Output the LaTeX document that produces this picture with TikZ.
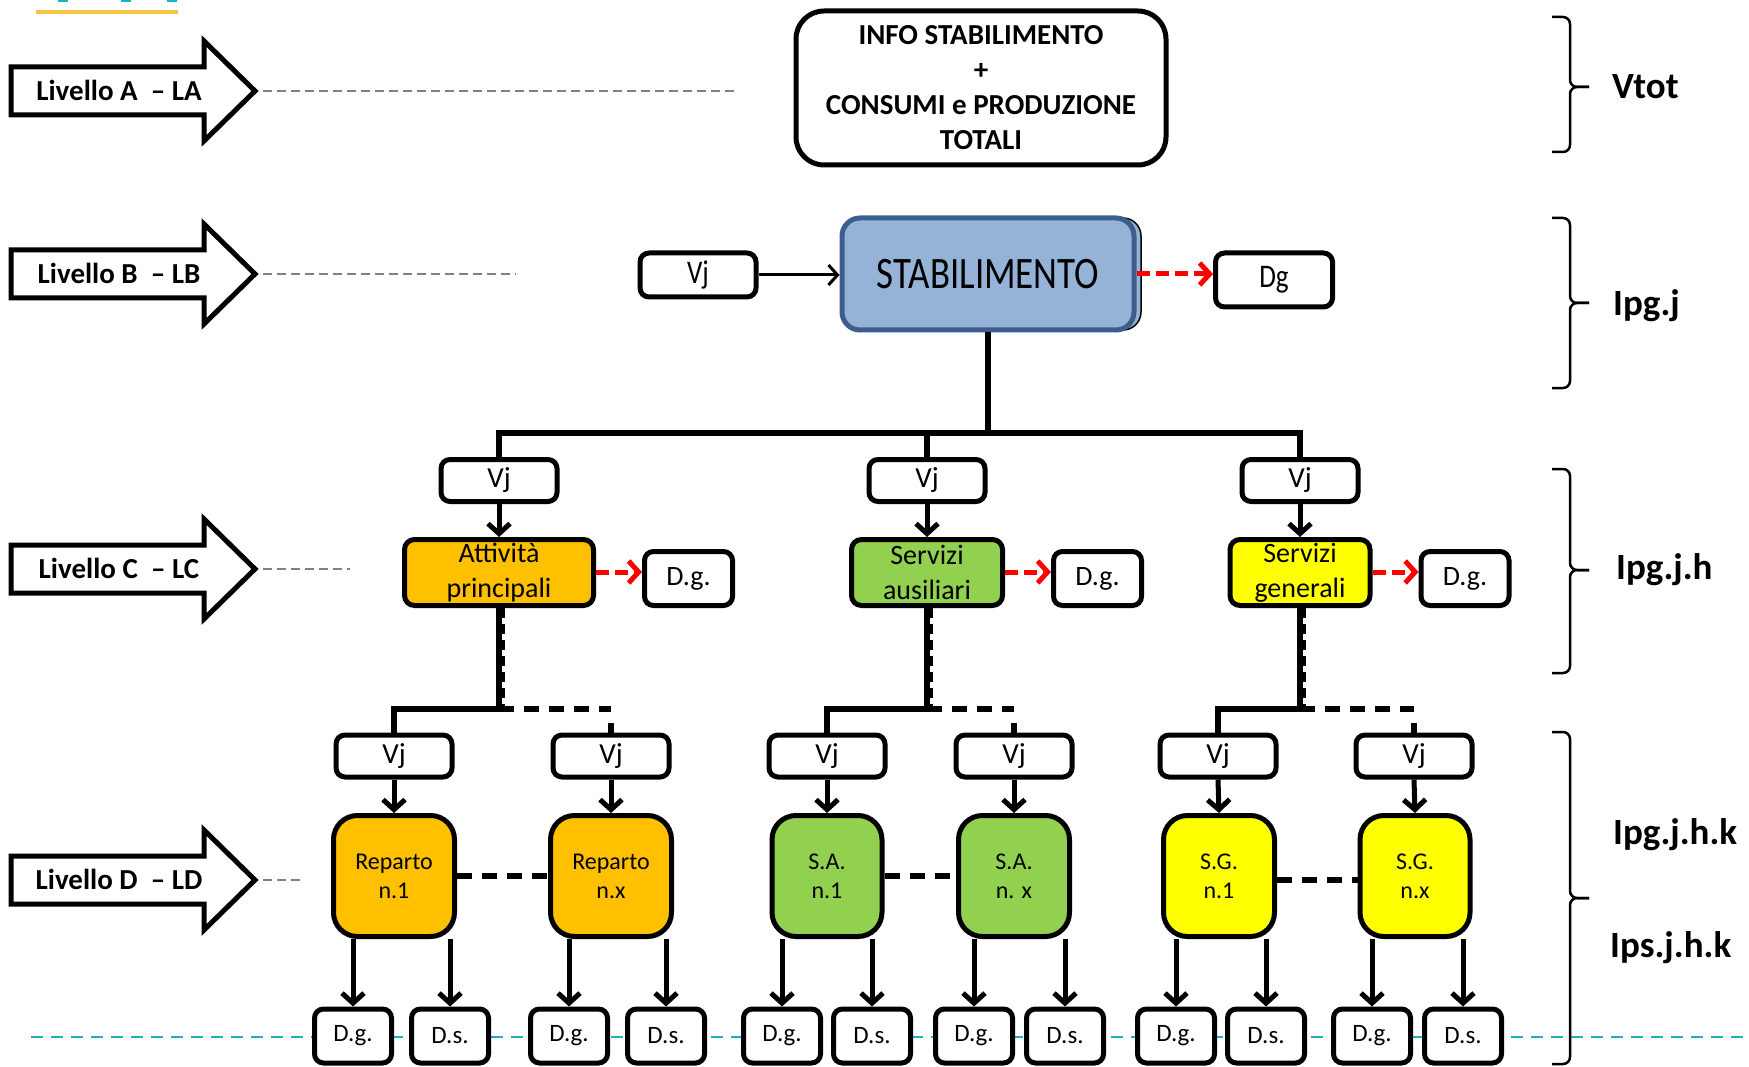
\documentclass[tikz,border=0pt]{standalone}
\usepackage{fontspec}
\setmainfont{Carlito}
\newfontfamily\condfont[FakeStretch=0.82]{Carlito}
\usetikzlibrary{arrows.meta}
\definecolor{stabfill}{RGB}{149,179,215}
\definecolor{stabline}{RGB}{60,94,140}
\definecolor{orangeC}{RGB}{255,192,0}
\definecolor{greenC}{RGB}{146,208,80}
\definecolor{yellowC}{RGB}{255,255,0}
\definecolor{cyanL}{RGB}{30,178,192}
\definecolor{grayL}{RGB}{128,128,128}
\definecolor{yellowL}{RGB}{245,197,66}
\newcommand\myfs[2]{\fontsize{#1}{#2}\selectfont}
\begin{document}
\begin{tikzpicture}[x=1pt,y=-1pt,
  box/.style={draw, line width=5pt, rounded corners=9pt, fill=white, inner sep=0pt, align=center},
  vjbox/.style={box, minimum width=116pt, minimum height=42pt, font=\myfs{29}{32}},
  dgcbox/.style={box, minimum width=88pt, minimum height=54pt, font=\myfs{28}{32}},
  cnode/.style={box, rounded corners=10pt, minimum height=66pt, font=\myfs{28}{35}},
  dnode/.style={box, rounded corners=24pt, minimum height=121pt, font=\myfs{24}{29}},
  botbox/.style={box, minimum width=77pt, minimum height=54pt, font=\myfs{25}{28}},
  tree/.style={line width=5.5pt, line join=miter},
  arr/.style={line width=5pt, -{Straight Barb[length=10pt,width=22pt]}},
  redarr/.style={red, line width=5pt, dash pattern=on 13pt off 6pt, -{Straight Barb[length=10pt,width=22pt]}},
  thickdash/.style={line width=5.5pt, dash pattern=on 15pt off 10pt},
  thindash/.style={line width=3pt, dash pattern=on 10pt off 6pt},
  graydash/.style={grayL, line width=2.5pt, dash pattern=on 9pt off 5pt},
  lvl/.style={line width=5pt, line join=miter, fill=white},
  lvltext/.style={anchor=base, inner sep=0pt, font=\bfseries\myfs{29}{34}},
  bracestyle/.style={line width=2.5pt, rounded corners=7pt},
  rlabel/.style={anchor=base west, inner sep=0pt, font=\bfseries\myfs{37}{42}}
]
\useasboundingbox (0,0) rectangle (1749,1067);

% header remains
\draw[yellowL, line width=4pt] (36,12) -- (178,12);
\fill[cyanL] (58,0) rectangle (68,2);
\fill[cyanL] (121,0) rectangle (131,2);
\fill[cyanL] (167,0) rectangle (177,2);

% cyan base line
\draw[cyanL, line width=2.5pt, dash pattern=on 12pt off 8pt] (31,1037) -- (1749,1037);

% level arrows
\foreach \yy/\lab/\nm/\de in {91/A/LA/734, 274/B/LB/516, 569/C/LC/350, 880/D/LD/302}{
  \draw[lvl] (11,\yy-24) -- (204,\yy-24) -- (204,\yy-50) -- (255,\yy) -- (204,\yy+50) -- (204,\yy+24) -- (11,\yy+24) -- cycle;
  \node[lvltext] (lab\lab) at (119,\yy+9.5) {Livello \lab\ \ -- \nm};
  \draw[graydash] (263,\yy) -- (\de,\yy);
}

% level A
\node[box, rounded corners=28pt, minimum width=370pt, minimum height=154pt, font=\bfseries\myfs{29}{35}] (info) at (981,88) {INFO STABILIMENTO\\+\\CONSUMI e PRODUZIONE\\TOTALI};

% level B
\draw[line width=1.5pt, fill=stabfill, rounded corners=18pt] (846,218) rectangle (1141,330);
\node[draw=stabline, line width=5pt, fill=stabfill, rounded corners=18pt, inner sep=0pt, minimum width=292pt, minimum height=112pt, font=\condfont\myfs{45}{50}] (stab) at (988,274) {STABILIMENTO};
\node[box, minimum width=116pt, minimum height=44pt, font=\condfont\myfs{33}{36}] (vjB) at (698,275) {Vj};
\node[box, minimum width=117pt, minimum height=54pt, font=\condfont\myfs{33}{36}] (dgB) at (1274,280) {Dg};
\draw[line width=3pt, -{Straight Barb[length=9pt,width=20pt]}] (vjB.east) -- (vjB.east -| stab.west);
\draw[redarr] (stab.east) -- (stab.east -| dgB.west);

% level C
\node[vjbox] (vjC1) at (499,480.5) {Vj};
\node[vjbox] (vjC2) at (927,480.5) {Vj};
\node[vjbox] (vjC3) at (1300,480.5) {Vj};
\coordinate (barM) at (988,433);
\draw[tree] (stab.south) -- (barM);
\draw[tree] (vjC1.north) -- (vjC1.north |- barM) -- (vjC3.north |- barM) -- (vjC3.north);
\draw[tree] (vjC2.north) -- (vjC2.north |- barM);

\node[cnode, fill=orangeC, minimum width=189pt] (c1) at (499,572.5) {Attività\\principali};
\node[cnode, fill=greenC, minimum width=151pt] (c2) at (927,572.5) {Servizi\\ausiliari};
\node[cnode, fill=yellowC, minimum width=140pt] (c3) at (1300,572.5) {Servizi\\generali};
\node[dgcbox] (dgC1) at (688.5,578.5) {D.g.};
\node[dgcbox] (dgC2) at (1097.5,578.5) {D.g.};
\node[dgcbox] (dgC3) at (1465,578.5) {D.g.};
\draw[arr] (vjC1.south) -- (c1.north);
\draw[arr] (vjC2.south) -- (c2.north);
\draw[arr] (vjC3.south) -- (c3.north);
\draw[redarr] ([yshift=0.5pt]c1.east) -- ([yshift=0.5pt]c1.east -| dgC1.west);
\draw[redarr] ([yshift=0.5pt]c2.east) -- ([yshift=0.5pt]c2.east -| dgC2.west);
\draw[redarr] ([yshift=0.5pt]c3.east) -- ([yshift=0.5pt]c3.east -| dgC3.west);

% level D nodes
\node[vjbox] (vj1a) at (394,756) {Vj};
\node[vjbox] (vj1b) at (611,756) {Vj};
\node[vjbox] (vj2a) at (827,756) {Vj};
\node[vjbox] (vj2b) at (1014,756) {Vj};
\node[vjbox] (vj3a) at (1218,756) {Vj};
\node[vjbox] (vj3b) at (1414,756) {Vj};

\node[dnode, fill=orangeC, minimum width=121pt] (r1a) at (394,876) {Reparto\\n.1};
\node[dnode, fill=orangeC, minimum width=121pt] (r1b) at (611,876) {Reparto\\n.x};
\node[dnode, fill=greenC, minimum width=110pt] (r2a) at (827,876) {S.A.\\n.1};
\node[dnode, fill=greenC, minimum width=111pt] (r2b) at (1014,876) {S.A.\\n. x};
\node[dnode, fill=yellowC, minimum width=111pt] (r3a) at (1219,876) {S.G.\\n.1};
\node[dnode, fill=yellowC, minimum width=110pt] (r3b) at (1415,876) {S.G.\\n.x};

% C -> D trees
\foreach \c/\a/\b in {c1/vj1a/vj1b, c2/vj2a/vj2b, c3/vj3a/vj3b}{
  \coordinate (bar\c) at (\c.south |- 0,709);
  \draw[tree] (\c.south) -- (bar\c) -- (bar\c -| \a.north) -- (\a.north);
  \draw[thindash] ([xshift=4pt]\c.south) -- ([xshift=4pt]bar\c);
  \draw[thickdash] (bar\c) -- (bar\c -| \b.north);
  \draw[tree] (\b.north) -- ++(0,-10);
}
\foreach \v/\r in {vj1a/r1a, vj1b/r1b, vj2a/r2a, vj2b/r2b, vj3a/r3a, vj3b/r3b}{
  \draw[arr] (\v.south) -- (\r.north);
}
\draw[thickdash] (r1a.east) -- (r1b.west);
\draw[thickdash] (r2a.east) -- (r2b.west);
\draw[thickdash] ([yshift=-4pt]r3a.east) -- ([yshift=-4pt]r3b.west);

% bottom boxes
\foreach \r/\g/\s/\gx/\sx in {r1a/g1a/s1a/353/450, r1b/g1b/s1b/569/666, r2a/g2a/s2a/782/872, r2b/g2b/s2b/974/1065, r3a/g3a/s3a/1176/1266, r3b/g3b/s3b/1372/1463}{
  \node[botbox] (\g) at (\gx,1036) {D.g.};
  \node[botbox] (\s) at (\sx,1036) {D.s.};
  \draw[arr] (\r.south -| \g.north) -- (\g.north);
  \draw[arr] (\r.south -| \s.north) -- (\s.north);
}

% braces
\foreach \t/\b/\m in {17/152/87, 218/388/303, 469/673/570, 732/1064/898}{
  \draw[bracestyle] (1552,\t) -- (1570,\t) -- (1570,\m) -- (1589,\m);
  \draw[bracestyle] (1552,\b) -- (1570,\b) -- (1570,\m) -- (1589,\m);
}
\node[rlabel] (tVtot) at (1612,99) {Vtot};
\node[rlabel] (tIpgj) at (1613,316) {Ipg.j};
\node[rlabel] (tIpgjh) at (1616,579) {Ipg.j.h};
\node[rlabel] (tIpgjhk) at (1613,844) {Ipg.j.h.k};
\node[rlabel] (tIpsjhk) at (1610,957) {Ips.j.h.k};
\end{tikzpicture}
\end{document}
